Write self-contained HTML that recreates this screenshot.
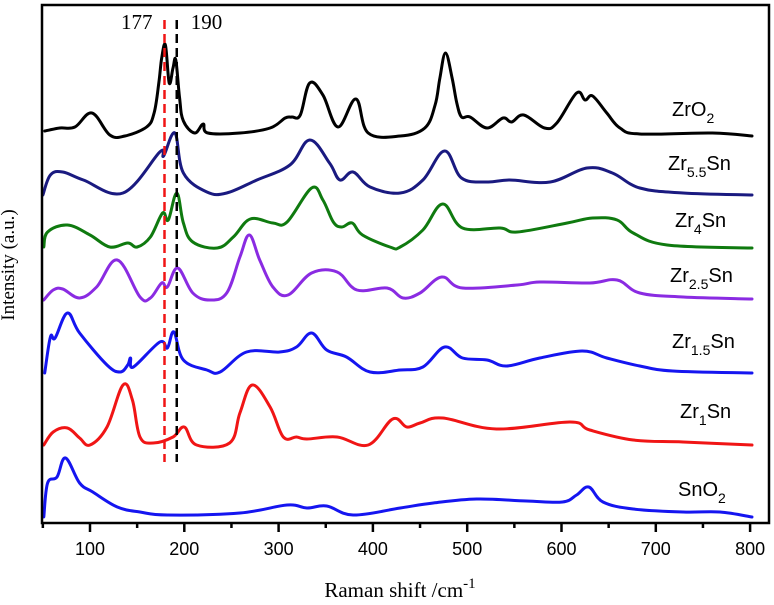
<!DOCTYPE html>
<html><head><meta charset="utf-8"><style>
html,body{margin:0;padding:0;background:#fff;}
svg{display:block;}
.tick{font-family:"Liberation Sans",sans-serif;font-size:18px;fill:#000;}
.lab{font-family:"Liberation Sans",sans-serif;font-size:20px;fill:#000;}
.ser{font-family:"Liberation Serif",serif;fill:#000;}
</style></head><body>
<svg id="chart" width="774" height="605" viewBox="0 0 774 605">
<g id="marks"></g>
<g id="annot"></g>
<rect x="42" y="5" width="727" height="518" fill="none" stroke="#000" stroke-width="2.5"/>
<g id="xaxis"></g>
<text class="ser" x="14" y="265" font-size="19" text-anchor="middle" transform="rotate(-90 14 265)">Intensity (a.u.)</text>
<text class="ser" x="400" y="597" font-size="21" text-anchor="middle">Raman shift /cm<tspan dy="-9" font-size="15">-1</tspan></text>
</svg>
<script>
const xTicks = [100,200,300,400,500,600,700,800];
const xMinorTicks = [50,150,250,350,450,550,650,750];
const seriesNames = ["ZrO2","Zr5.5Sn","Zr4Sn","Zr2.5Sn","Zr1.5Sn","Zr1Sn","SnO2"];
const seriesColors = ["#000000","#1a1a80","#0f7a0f","#8a2be2","#1515f0","#f01515","#1515f0"];
const refLines = [179,192];
const refLabels = ["177","190"];
const zrO2 = [[52,392],[68,395],[84,396],[102,410],[121,388],[137,387],[160,396],[168,410],[173,440],[176,465],[180,478],[184,440],[188,455],[191,463],[195,425],[199,402],[211,390],[220,399],[225,390],[259,390],[291,395],[307,405],[314,406],[323,408],[333,440],[347,428],[363,396],[382,424],[395,390],[429,387],[455,395],[466,418],[471,445],[477,470],[484,445],[489,420],[494,406],[503,406],[521,395],[538,405],[547,401],[560,408],[582,395],[595,400],[616,430],[625,423],[633,427],[648,410],[662,395],[683,389],[760,390],[802,387]];
const zr55 = [[50,328],[58,348],[71,351],[93,343],[135,330],[174,371],[178,367],[190,390],[199,350],[224,331],[245,330],[277,343],[312,358],[333,383],[354,360],[365,343],[379,351],[397,336],[429,330],[453,343],[476,372],[494,345],[521,341],[545,343],[588,341],[627,355],[654,350],[683,335],[729,330],[802,328]];
const zr4 = [[51,276],[55,291],[76,298],[100,288],[121,276],[140,280],[150,276],[164,286],[177,310],[183,303],[192,330],[199,300],[209,281],[235,275],[252,286],[270,304],[294,300],[309,301],[335,335],[347,323],[358,301],[367,296],[378,300],[389,288],[418,276],[429,276],[453,293],[474,319],[495,295],[535,295],[553,291],[606,300],[633,305],[659,303],[676,290],[712,278],[802,275]];
const zr25 = [[51,223],[61,233],[71,234],[89,225],[107,236],[129,263],[153,226],[164,225],[176,240],[182,236],[193,255],[209,230],[227,223],[245,230],[259,266],[269,288],[280,263],[294,236],[310,228],[335,250],[362,251],[383,233],[415,235],[432,225],[450,230],[473,246],[495,235],[553,238],[577,241],[630,240],[659,243],[683,230],[729,226],[802,224]];
const zr15 = [[52,150],[58,186],[63,185],[76,210],[89,190],[118,158],[132,151],[140,158],[143,165],[146,156],[174,181],[182,175],[189,191],[199,163],[224,153],[238,151],[266,171],[301,171],[319,176],[335,190],[351,173],[372,166],[397,151],[429,153],[453,156],[476,176],[495,165],[521,163],[542,157],[577,165],[622,172],[648,165],[683,157],[718,152],[802,150]];
const zr1 = [[51,78],[61,91],[76,95],[89,85],[100,78],[118,96],[135,138],[145,123],[153,86],[167,80],[188,86],[200,96],[213,78],[248,80],[259,110],[272,138],[291,116],[305,86],[319,86],[330,84],[362,86],[395,78],[421,104],[436,96],[450,100],[474,105],[531,94],[609,101],[630,93],[676,83],[729,81],[802,78]];
const snO2 = [[51,6],[55,40],[65,46],[74,65],[89,40],[103,31],[129,16],[153,11],[182,8],[259,10],[309,18],[330,15],[351,17],[379,8],[429,15],[464,20],[510,24],[563,22],[601,21],[616,28],[629,36],[644,21],[676,14],[729,11],[768,11],[802,6]];
const allSeries = [zrO2,zr55,zr4,zr25,zr15,zr1,snO2];
const labelPos = [[672,116],[668,170],[675,227],[670,282],[672,348],[680,418],[678,496]];

const NS = "http://www.w3.org/2000/svg";
const X0 = 100, PX0 = 90, K = 0.943;
function xs(w){ return PX0 + (w - X0) * K; }
function ys(v){ return 523 - v; }
function mk(tag, attrs, parent){ const e = document.createElementNS(NS, tag); for (const k in attrs) e.setAttribute(k, attrs[k]); parent.appendChild(e); return e; }
function smoothPath(pts){
  const p = pts.map(d => [xs(d[0]), ys(d[1])]);
  let s = "M" + p[0][0].toFixed(1) + "," + p[0][1].toFixed(1);
  for (let i = 0; i < p.length - 1; i++){
    const a = p[Math.max(0,i-1)], b = p[i], c = p[i+1], d = p[Math.min(p.length-1,i+2)];
    const t = 0.18;
    const c1 = [b[0] + (c[0]-a[0])*t, b[1] + (c[1]-a[1])*t];
    const c2 = [c[0] - (d[0]-b[0])*t, c[1] - (d[1]-b[1])*t];
    s += " C" + c1[0].toFixed(1)+","+c1[1].toFixed(1)+" "+c2[0].toFixed(1)+","+c2[1].toFixed(1)+" "+c[0].toFixed(1)+","+c[1].toFixed(1);
  }
  return s;
}
const marks = document.getElementById("marks");
allSeries.forEach((s, i) => {
  const path = mk("path", {d: smoothPath(s), fill: "none", stroke: seriesColors[i], "stroke-width": 3, "stroke-linejoin": "round", "stroke-linecap": "round"}, marks);
  
  
});
const annot = document.getElementById("annot");
const refColors = ["#f01515", "#000"];
refLines.forEach((w, i) => {
  const ln = mk("line", {x1: xs(w), x2: xs(w), y1: 20, y2: 462, stroke: refColors[i], "stroke-width": 2.5, "stroke-dasharray": "9,5"}, annot);
  
  
});
const r1 = mk("text", {x: xs(refLines[0]) - 12, y: 29, "text-anchor": "end", "font-size": 21, class: "ser"}, annot);
r1.textContent = refLabels[0];


const r2 = mk("text", {x: xs(refLines[1]) + 14, y: 29, "text-anchor": "start", "font-size": 21, class: "ser"}, annot);
r2.textContent = refLabels[1];


const subs = [["Zr","O","2"],["Zr","5.5","Sn"],["Zr","4","Sn"],["Zr","2.5","Sn"],["Zr","1.5","Sn"],["Zr","1","Sn"],["Sn","O","2"]];
subs.forEach((p, i) => {
  const t = mk("text", {x: labelPos[i][0], y: labelPos[i][1], class: "lab"}, annot);
  
  
  if (p[2] === "2") {
    t.innerHTML = p[0] + p[1] + '<tspan dy="7" font-size="14">2</tspan>';
  } else {
    t.innerHTML = p[0] + '<tspan dy="7" font-size="14">' + p[1] + '</tspan><tspan dy="-7">' + p[2] + '</tspan>';
  }
});
const xaxis = document.getElementById("xaxis");
xTicks.forEach(v => {
  const tk = mk("line", {x1: xs(v), x2: xs(v), y1: 523, y2: 532, stroke: "#000", "stroke-width": 2.5}, xaxis);
  
  
  const tl = mk("text", {x: xs(v), y: 555, "text-anchor": "middle", class: "tick"}, xaxis);
  tl.textContent = v;
  
  
});
xMinorTicks.forEach(v => {
  const tk = mk("line", {x1: xs(v), x2: xs(v), y1: 523, y2: 528, stroke: "#000", "stroke-width": 2.5}, xaxis);
  
  
});
</script>
</body></html>
